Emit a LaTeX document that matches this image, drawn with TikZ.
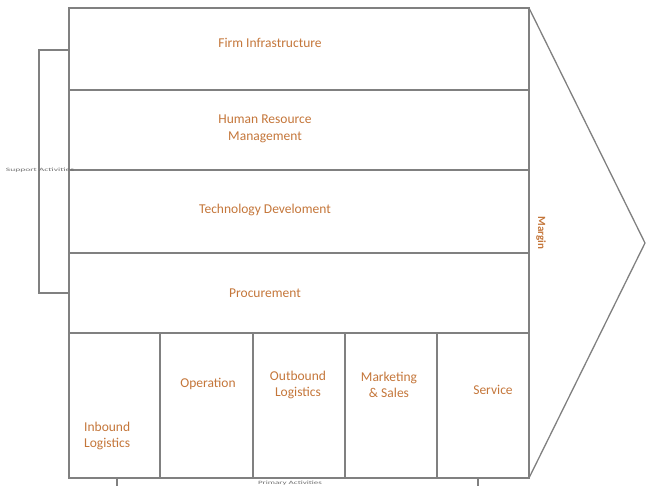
\documentclass[tikz,border=0pt]{standalone}
\usepackage{fontspec}
\setmainfont{Carlito}
\definecolor{lbl}{RGB}{196,118,58}
\definecolor{ln}{RGB}{128,128,128}
\definecolor{gtx}{RGB}{110,110,110}
\begin{document}
\begin{tikzpicture}[x=1pt,y=-1pt,
  frame/.style={draw=ln,line width=1.3pt},
  lab/.style={text=lbl,font=\fontsize{13.5}{16.5}\selectfont,align=center,inner sep=0pt},
  tiny/.style={text=gtx,font=\fontsize{5}{6}\selectfont,inner sep=0pt,xscale=1.9}]
\useasboundingbox (0,0) rectangle (646,486);
% coordinates
\coordinate (tl) at (69,8);
\coordinate (tr) at (529,8);
\coordinate (bl) at (69,478);
\coordinate (br) at (529,478);
\coordinate (tip) at (645,243);
% outer frame and arrow
\draw[frame] (tl) -- (tr) -- (br) -- (bl) -- cycle;
\draw[frame] (tr) -- (tip) -- (br);
% row separators
\foreach \y in {90,170,253,333} \draw[frame] (69,\y) -- (529,\y);
% column separators
\foreach \x in {160,253,345,437} \draw[frame] (\x,333) -- (\x,478);
% support bracket
\coordinate (s1) at (39,50);
\coordinate (s2) at (39,293);
\draw[frame,line width=1.1pt] (69,50) -- (s1) -- (s2) -- (69,293);
% primary ticks
\draw[frame,line width=1.1pt] (117,478) -- (117,490);
\draw[frame,line width=1.1pt] (478,478) -- (478,490);
% labels
\node[lab] (fi) at (270,43) {Firm Infrastructure};
\node[lab] (hr) at (265,129) {Human Resource\\Management};
\node[lab] (td) at (265,210) {Technology Develoment};
\node[lab] (pr) at (265,293) {Procurement};
\node[lab,align=left,anchor=west] (il) at (84,436) {Inbound\\Logistics};
\node[lab] (op) at (208,384) {Operation};
\node[lab] (ol) at (298,385) {Outbound\\Logistics};
\node[lab] (ms) at (389,385) {Marketing\\\& Sales};
\node[lab] (sv) at (493,390) {Service};
\node[lab,font=\fontsize{11}{13}\bfseries,rotate=-90] (mg) at (541,233) {Margin};
\node[tiny] (sa) at (40,170) {Support Activities};
\node[tiny,xscale=0.95] (pa) at (290,483) {Primary Activities};
\end{tikzpicture}
\end{document}
